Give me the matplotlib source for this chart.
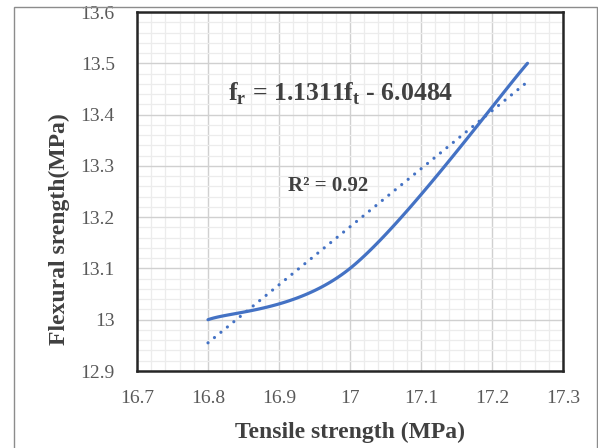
import numpy as np
import matplotlib
matplotlib.use("Agg")
import matplotlib.pyplot as plt
from matplotlib.patches import Rectangle
from matplotlib.ticker import MultipleLocator

tensile = [16.8, 17.0, 17.25]
flexural = [13.0, 13.1, 13.5]
x_ticks = [16.7, 16.8, 16.9, 17.0, 17.1, 17.2, 17.3]
x_tick_labels = ["16.7", "16.8", "16.9", "17", "17.1", "17.2", "17.3"]
y_ticks = [12.9, 13.0, 13.1, 13.2, 13.3, 13.4, 13.5, 13.6]
y_tick_labels = ["12.9", "13", "13.1", "13.2", "13.3", "13.4", "13.5", "13.6"]

BLUE = "#4472C4"
TEXT = "#404040"

plt.rcParams['font.family'] = ['Liberation Serif', 'DejaVu Serif']
plt.rcParams['mathtext.fontset'] = 'custom'
plt.rcParams['mathtext.rm'] = 'Liberation Serif'
plt.rcParams['mathtext.bf'] = 'Liberation Serif:bold'


def smooth_line(xs, ys, n=60):
    # excel style smoothed line (cardinal bezier through the points)
    p = np.column_stack([xs, ys])
    out = []
    for i in range(len(p) - 1):
        p0 = p[i - 1] if i > 0 else p[i]
        p1, p2 = p[i], p[i + 1]
        p3 = p[i + 2] if i + 2 < len(p) else p[i + 1]
        c1 = p1 + (p2 - p0) / 6
        c2 = p2 - (p3 - p1) / 6
        t = np.linspace(0, 1, n)[:, None]
        seg = ((1 - t) ** 3) * p1 + 3 * ((1 - t) ** 2) * t * c1 + 3 * (1 - t) * t ** 2 * c2 + t ** 3 * p2
        out.append(seg)
    s = np.vstack(out)
    return s[:, 0], s[:, 1]


fig = plt.figure(figsize=(5.98, 4.48), dpi=100)
ax = fig.add_axes([137 / 598, 77 / 448, 426 / 598, 359 / 448])

fig.patches.append(Rectangle((14 / 598, -0.02), 583 / 598, 1.004, transform=fig.transFigure,
                             fill=False, edgecolor="#8c8c8c", linewidth=1.0))

sx, sy = smooth_line(tensile, flexural)
ax.plot(sx, sy, color=BLUE, linewidth=2.3, solid_capstyle='round', zorder=3)

slope, intercept = np.polyfit(tensile, flexural, 1)
tx = np.array([tensile[0], tensile[-1]])
ax.plot(tx, slope * tx + intercept, color=BLUE, linewidth=2.3, linestyle=(0, (0.01, 2.6)),
        dash_capstyle='round', zorder=3)

ax.set_xlim(16.7, 17.3)
ax.set_ylim(12.9, 13.6)
ax.set_xticks(x_ticks)
ax.set_xticklabels(x_tick_labels)
ax.set_yticks(y_ticks)
ax.set_yticklabels(y_tick_labels)
ax.xaxis.set_minor_locator(MultipleLocator(0.02))
ax.yaxis.set_minor_locator(MultipleLocator(0.02))
ax.grid(which='major', color="#d0d0d0", linewidth=1.0)
ax.grid(which='minor', color="#ececec", linewidth=0.9)
ax.set_axisbelow(True)
ax.tick_params(which='both', length=0)
ax.tick_params(axis='both', labelsize=14, labelcolor="#595959")
ax.tick_params(axis='x', pad=14)
ax.tick_params(axis='y', pad=16)
for sp in ax.spines.values():
    sp.set_color("#262626")
    sp.set_linewidth(1.8)

ax.set_xlabel("Tensile strength (MPa)", fontsize=17, fontweight='bold', color=TEXT, labelpad=10)
ax.set_ylabel("Flexural srength(MPa)", fontsize=17, fontweight='bold', color=TEXT)
ax.yaxis.set_label_coords(-0.158, 0.396)

ax.text(16.828, 13.44, r"f$_\mathbf{r}$ = 1.1311f$_\mathbf{t}$ - 6.0484", fontsize=18.5,
        fontweight='bold', color=TEXT, va='center')
ax.text(16.913, 13.26, "R² = 0.92", fontsize=15, fontweight='bold', color=TEXT, va='center')

fig.savefig("out.png", dpi=100)
